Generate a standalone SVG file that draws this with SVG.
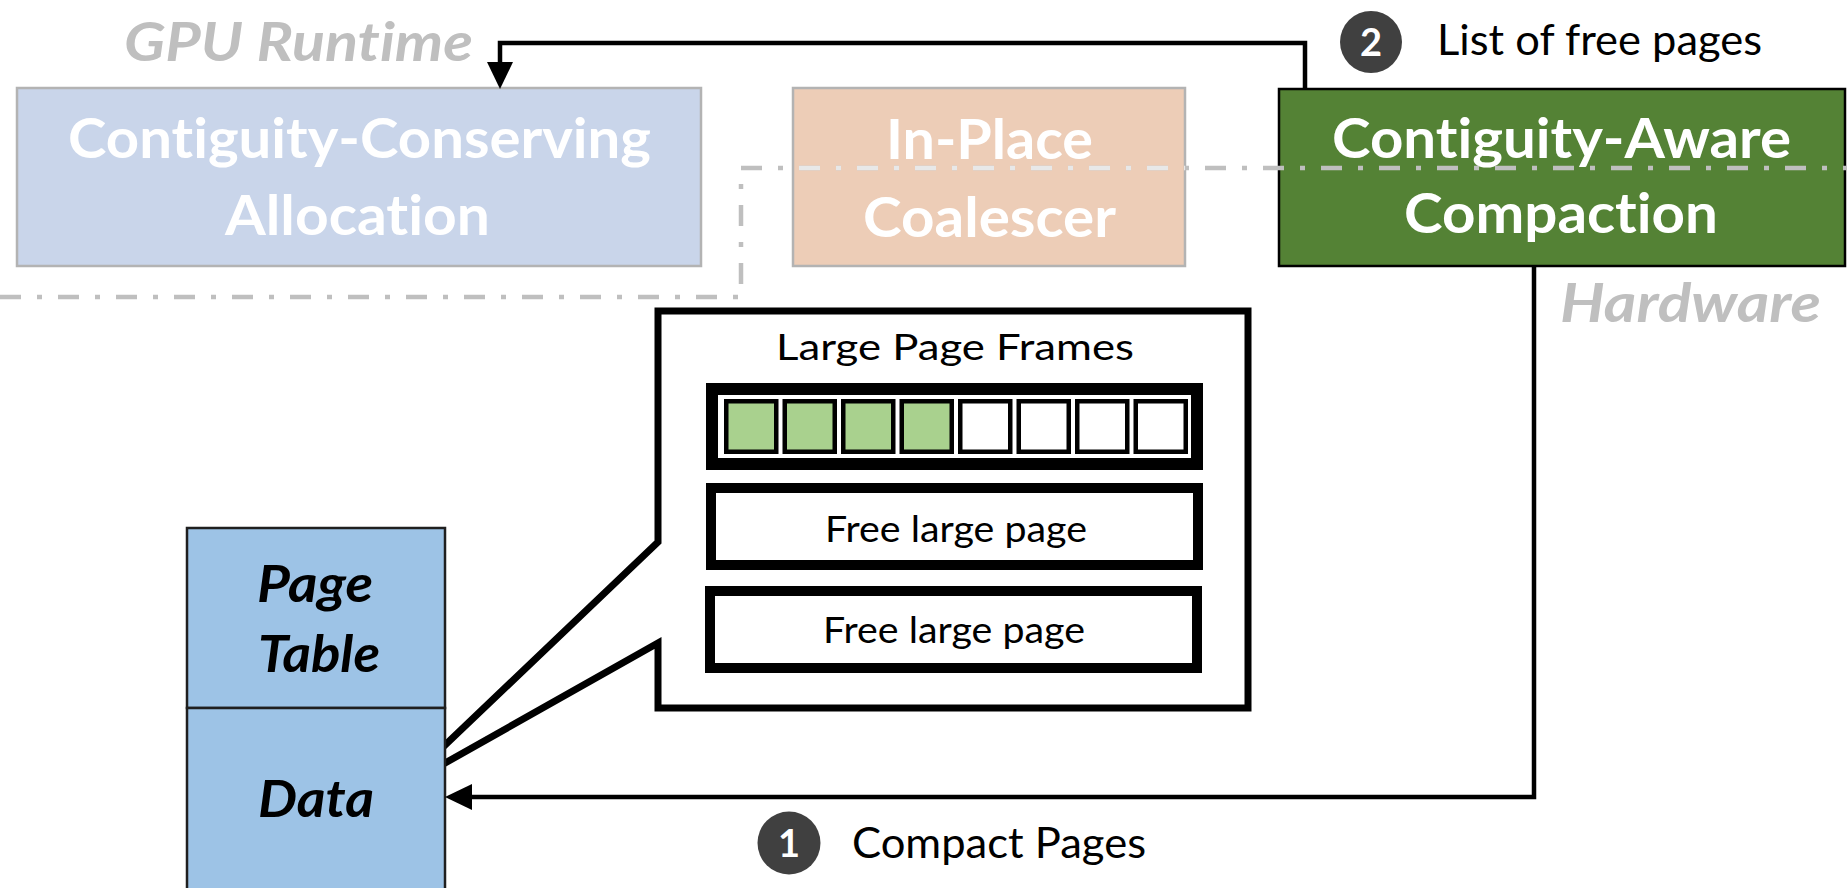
<svg xmlns="http://www.w3.org/2000/svg" xmlns:xlink="http://www.w3.org/1999/xlink" width="1847" height="888" viewBox="0 0 1847 888">
<defs>
<style>
text{font-family:Lato,"Open Sans","Liberation Sans",sans-serif;font-variant-ligatures:none;font-feature-settings:"liga" 0,"clig" 0}
.title{font-weight:700;font-size:56px;fill:#fff}
.region{font-weight:700;font-style:italic;font-size:54px;fill:#BFBFBF}
.lbl{font-size:42px;fill:#000}
.sm{font-size:37px;fill:#000}
.pt{font-weight:700;font-style:italic;font-size:51px;fill:#000}
.num{font-weight:700;font-size:38px;fill:#fff}
.badge{fill:#404040}
.conn{fill:none;stroke:#000;stroke-width:4.5}
.bound{fill:none;stroke-width:4.5;stroke-dasharray:21 16 5 16}
.frame{fill:#fff;stroke:#000}
.sq{stroke:#000;stroke-width:4.5}
</style>
<marker id="ah" markerUnits="userSpaceOnUse" markerWidth="28" markerHeight="28" refX="0" refY="13" orient="auto">
<path d="M0,0 L27,13 L0,26 z" fill="#000"/>
</marker>
<clipPath id="clipIP"><rect x="793" y="88" width="392" height="178"/></clipPath>
<path id="hwline" d="M0,297 H741 V168 H1847"/>
</defs>

<g id="gpu-runtime-label">
<text class="region" x="124" y="61" textLength="349" lengthAdjust="spacingAndGlyphs">GPU Runtime</text>
</g>

<g id="node-allocation">
<rect x="17" y="88" width="684" height="178" fill="#C9D5EA" stroke="#B3B3B3" stroke-width="2.5"/>
<text class="title" x="68" y="158" textLength="583" lengthAdjust="spacingAndGlyphs">Contiguity-Conserving</text>
<text class="title" x="225" y="235" textLength="265" lengthAdjust="spacingAndGlyphs">Allocation</text>
</g>

<g id="node-coalescer">
<rect x="793" y="88" width="392" height="178" fill="#EDCDB7" stroke="#B3B3B3" stroke-width="2.5"/>
<text class="title" x="886" y="159" textLength="207" lengthAdjust="spacingAndGlyphs">In-Place</text>
<text class="title" x="863" y="237" textLength="253" lengthAdjust="spacingAndGlyphs">Coalescer</text>
</g>

<g id="node-compaction">
<rect x="1279" y="89" width="566" height="177" fill="#548235" stroke="#000" stroke-width="2.5"/>
<text class="title" x="1332" y="158" textLength="459" lengthAdjust="spacingAndGlyphs">Contiguity-Aware</text>
<text class="title" x="1404" y="233" textLength="314" lengthAdjust="spacingAndGlyphs">Compaction</text>
</g>

<g id="boundary">
<use xlink:href="#hwline" class="bound" stroke="#BFBFBF"/>
<use xlink:href="#hwline" class="bound" stroke="#E8E8E8" clip-path="url(#clipIP)"/>
</g>

<g id="hardware-label">
<text class="region" x="1560" y="322" textLength="261" lengthAdjust="spacingAndGlyphs">Hardware</text>
</g>

<g id="node-frames-callout">
<path class="frame" stroke-width="7" stroke-miterlimit="10" d="M658,311 H1248 V708 H658 V643 L399,789 L658,542 Z"/>
<text class="sm" x="776" y="360" textLength="358" lengthAdjust="spacingAndGlyphs">Large Page Frames</text>
<rect class="frame" x="712" y="389" width="485" height="75" stroke-width="12"/>
<g id="frames">
<rect class="sq" x="726.25" y="401.25" width="50" height="50.5" fill="#A9D18E"/>
<rect class="sq" x="784.75" y="401.25" width="50" height="50.5" fill="#A9D18E"/>
<rect class="sq" x="843.25" y="401.25" width="50" height="50.5" fill="#A9D18E"/>
<rect class="sq" x="901.75" y="401.25" width="50" height="50.5" fill="#A9D18E"/>
<rect class="sq" x="960.25" y="401.25" width="50" height="50.5" fill="#fff"/>
<rect class="sq" x="1018.75" y="401.25" width="50" height="50.5" fill="#fff"/>
<rect class="sq" x="1077.25" y="401.25" width="50" height="50.5" fill="#fff"/>
<rect class="sq" x="1135.75" y="401.25" width="50" height="50.5" fill="#fff"/>
</g>
<rect class="frame" x="711" y="488" width="487" height="77" stroke-width="10"/>
<text class="sm" font-size="35" x="825" y="542" textLength="262" lengthAdjust="spacingAndGlyphs">Free large page</text>
<rect class="frame" x="710" y="591" width="487" height="77" stroke-width="10"/>
<text class="sm" font-size="35" x="823" y="643" textLength="262" lengthAdjust="spacingAndGlyphs">Free large page</text>
</g>

<g id="node-memory">
<rect x="187" y="528" width="258" height="180" fill="#9DC3E6" stroke="#1F1F1F" stroke-width="2.5"/>
<rect x="187" y="708" width="258" height="200" fill="#9DC3E6" stroke="#1F1F1F" stroke-width="2.5"/>
<text class="pt" x="257" y="602" textLength="116" lengthAdjust="spacingAndGlyphs">Page</text>
<text class="pt" x="258" y="672" textLength="122" lengthAdjust="spacingAndGlyphs">Table</text>
<text class="pt" x="258" y="817" textLength="116" lengthAdjust="spacingAndGlyphs">Data</text>
</g>

<g id="connectors">
<path class="conn" d="M1305,89 V43 H500 V62" marker-end="url(#ah)"/>
<path class="conn" stroke-width="4" d="M1534,266 V797 H472" marker-end="url(#ah)"/>
</g>

<g id="label-free-pages">
<circle class="badge" cx="1371" cy="42" r="31"/>
<text class="num" x="1371" y="56" text-anchor="middle">2</text>
<text class="lbl" x="1437" y="55" textLength="325" lengthAdjust="spacingAndGlyphs">List of free pages</text>
</g>

<g id="label-compact">
<circle class="badge" cx="789" cy="843" r="31.5"/>
<text class="num" x="789" y="857" text-anchor="middle">1</text>
<text class="lbl" x="852" y="858" textLength="294" lengthAdjust="spacingAndGlyphs">Compact Pages</text>
</g>
</svg>
